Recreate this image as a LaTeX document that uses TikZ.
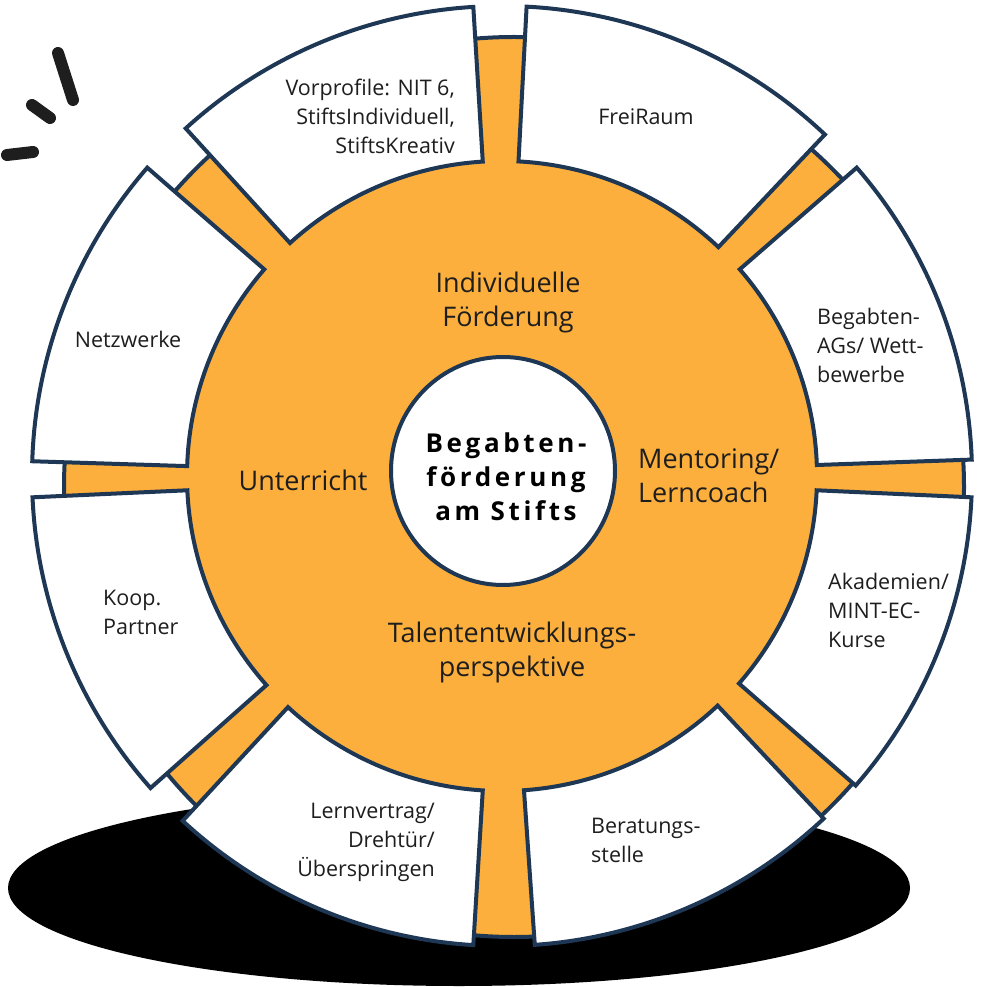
\documentclass[tikz,border=0pt]{standalone}
\usepackage{fontspec}
\setmainfont{Open Sans}
\newfontfamily\hubfont[LetterSpace=14]{Open Sans}
\definecolor{ring}{RGB}{252,175,60}
\definecolor{navy}{RGB}{30,55,85}
\definecolor{ink}{RGB}{30,30,30}
\definecolor{shadowc}{RGB}{0,0,0}
\begin{document}
\begin{tikzpicture}[
  seg/.style={draw=navy, line width=4pt, fill=white, line join=miter},
  outlbl/.style={inner sep=0pt, text=ink, font=\fontsize{21.5}{29}\selectfont},
  inlbl/.style={inner sep=0pt, text=ink, font=\fontsize{27}{34}\selectfont},
  flick/.style={draw=ink, line width=12pt, line cap=round},
]
\useasboundingbox (0pt,0pt) rectangle (992pt,986pt);

% shadow
\fill[shadowc] (459pt,98pt) ellipse[x radius=451pt, y radius=98pt];

% orange disk
\draw[navy, line width=4pt, fill=ring] (514pt,499pt) circle[radius=450pt];

% ring segments
\newcommand\ringseg[2]{%
  \draw[seg] (#1:315pt) -- (#1:470pt) arc[start angle=#1, end angle=#2, radius=470pt]
    -- (#2:315pt) arc[start angle=#2, end angle=#1, radius=315pt] -- cycle;}
\begin{scope}[shift={(502pt,510pt)}]
  \ringseg{46.6}{87}
  \ringseg{93.5}{132.3}
  \ringseg{139}{178.2}
  \ringseg{182.6}{221.6}
  \ringseg{227.2}{266.5}
  \ringseg{274}{313.2}
  \ringseg{318.8}{357.4}
  \ringseg{2}{41}
\end{scope}

% hub
\draw[navy, line width=4pt, fill=white] (503pt,515pt) ellipse[x radius=112pt, y radius=114pt];
\node[inner sep=0pt, align=center, text=black, font=\hubfont\bfseries\fontsize{26}{34}\selectfont] (hub) at (506pt,509pt) {Begabten-\\förderung\\am Stifts};

% inner labels
\node[inlbl, align=center] (indiv) at (508pt,684pt) {Individuelle\\Förderung};
\node[inlbl] (unter) at (303pt,506pt) {Unterricht};
\node[inlbl, align=left, anchor=west] (mentor) at (638pt,510pt) {Mentoring/\\Lerncoach};
\node[inlbl, align=center] (talent) at (512pt,334pt) {Talententwicklungs-\\perspektive};

% outer labels
\node[outlbl, align=right, anchor=east] (vorp) at (455pt,870pt) {Vorprofile: NIT 6,\\StiftsIndividuell,\\StiftsKreativ};
\node[outlbl] (frei) at (646pt,869pt) {FreiRaum};
\node[outlbl, align=left, anchor=west] (ags) at (817pt,641pt) {Begabten-\\AGs/ Wett-\\bewerbe};
\node[outlbl, align=left, anchor=west] (akad) at (828pt,376pt) {Akademien/\\MINT-EC-\\Kurse};
\node[outlbl, align=left, anchor=west] (berat) at (591pt,146pt) {Beratungs-\\stelle};
\node[outlbl, align=right, anchor=east] (lern) at (435pt,144pt) {Lernvertrag/\\Drehtür/\\Überspringen};
\node[outlbl, align=left, anchor=west] (koop) at (103pt,374pt) {Koop.\\Partner};
\node[outlbl] (netz) at (128pt,647pt) {Netzwerke};

% flicks
\draw[flick] (58pt,933pt) -- (73pt,886pt);
\draw[flick] (32pt,881pt) -- (50pt,868pt);
\draw[flick] (7pt,831pt) -- (33pt,834pt);
\end{tikzpicture}
\end{document}
